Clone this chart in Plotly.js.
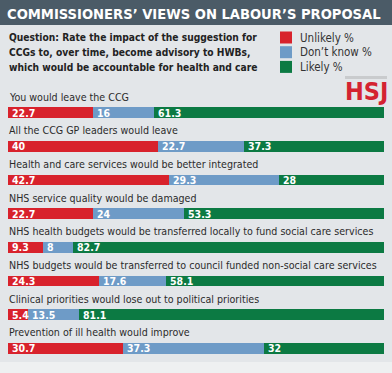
<!DOCTYPE html>
<html>
<head>
<meta charset="utf-8">
<script src="https://cdn.plot.ly/plotly-3.0.1.min.js"></script>
<style>html,body{margin:0;padding:0;background:#e3e6e9;}#chart{width:392px;height:373px;}</style>
</head>
<body>
<div id="chart"></div>
<script>
const categories = [
  "You would leave the CCG",
  "All the CCG GP leaders would leave",
  "Health and care services would be better integrated",
  "NHS service quality would be damaged",
  "NHS health budgets would be transferred locally to fund social care services",
  "NHS budgets would be transferred to council funded non-social care services",
  "Clinical priorities would lose out to political priorities",
  "Prevention of ill health would improve"
];
const unlikely = [22.7, 40, 42.7, 22.7, 9.3, 24.3, 5.4, 30.7];
const dontKnow = [16, 22.7, 29.3, 24, 8, 17.6, 13.5, 37.3];
const likely = [61.3, 37.3, 28, 53.3, 82.7, 58.1, 81.1, 32];
const seriesNames = ["Unlikely %", "Don\u2019t know %", "Likely %"];
const titleText = "COMMISSIONERS\u2019 VIEWS ON LABOUR\u2019S PROPOSAL";
const questionLines = [
  "Question: Rate the impact of the suggestion for",
  "CCGs to, over time, become advisory to HWBs,",
  "which would be accountable for health and care"
];

const FONT = "DejaVu Sans Condensed, Liberation Sans, sans-serif";
const colors = ["#d8222c", "#6e9bc7", "#0c7a43"];
const W = 392, H = 373;
const M = {l: 8, r: 8, t: 96, b: 8};
const PW = W - M.l - M.r, PH = H - M.t - M.b;
const px = x => (x - M.l) / PW;
const py = y => (H - M.b - y) / PH;

const series = [unlikely, dontKnow, likely];
const traces = series.map((vals, i) => ({
  type: "bar",
  orientation: "h",
  y: categories,
  x: vals,
  name: seriesNames[i],
  marker: {color: colors[i], line: {width: 0}},
  width: 0.32,
  hoverinfo: "skip",
  showlegend: false
}));

const annotations = [];
// category labels
categories.forEach(c => {
  annotations.push({
    x: 0, xref: "x", y: c, yref: "y", yshift: 16, xshift: -1,
    text: c, showarrow: false, xanchor: "left", yanchor: "middle",
    font: {family: FONT, size: 10.6, color: "#2b2b2b"}
  });
});
// value labels
categories.forEach((c, j) => {
  let start = 0;
  series.forEach(vals => {
    annotations.push({
      x: start, xref: "x", y: c, yref: "y", xshift: 2,
      text: String(vals[j]), showarrow: false, xanchor: "left", yanchor: "middle",
      font: {family: FONT, size: 10.5, color: "#ffffff", weight: "bold"}
    });
    start += vals[j];
  });
});
// title
annotations.push({
  x: px(5), xref: "paper", y: py(13), yref: "paper",
  text: "<b>" + titleText + "</b>", showarrow: false, xanchor: "left", yanchor: "middle",
  font: {family: FONT, size: 14.6, color: "#ffffff"}
});
// question
questionLines.forEach((t, i) => {
  annotations.push({
    x: px(7), xref: "paper", y: py(38 + i * 14.5), yref: "paper",
    text: "<b>" + t + "</b>", showarrow: false, xanchor: "left", yanchor: "middle",
    font: {family: FONT, size: 10.2, color: "#222222"}
  });
});
// legend
const shapes = [];
seriesNames.forEach((n, i) => {
  const cy = 37.5 + i * 14.7;
  shapes.push({
    type: "rect", xref: "paper", yref: "paper",
    x0: px(280), x1: px(292), y0: py(cy - 6), y1: py(cy + 6),
    fillcolor: colors[i], line: {width: 0}
  });
  annotations.push({
    x: px(298), xref: "paper", y: py(cy), yref: "paper",
    text: n, showarrow: false, xanchor: "left", yanchor: "middle",
    font: {family: FONT, size: 11.5, color: "#333333"}
  });
});
// HSJ logo
annotations.push({
  x: px(390), xref: "paper", y: py(92), yref: "paper",
  text: "<b>HSJ</b>", showarrow: false, xanchor: "right", yanchor: "middle",
  font: {family: FONT, size: 25, color: "#d42331"}
});
// title bar and background strips
shapes.unshift(
  {type: "rect", xref: "paper", yref: "paper", layer: "below",
   x0: px(0), x1: px(W), y0: py(0), y1: py(25), fillcolor: "#4b5b67", line: {width: 0}},
  {type: "rect", xref: "paper", yref: "paper", layer: "below",
   x0: px(0), x1: px(W), y0: py(362), y1: py(H), fillcolor: "#eef0f1", line: {width: 0}},
  {type: "rect", xref: "paper", yref: "paper", layer: "below",
   x0: px(345), x1: px(387), y0: py(76), y1: py(79), fillcolor: "#c9cbcd", line: {width: 0}}
);

const layout = {
  width: W, height: H,
  margin: M,
  paper_bgcolor: "#e3e6e9",
  plot_bgcolor: "rgba(0,0,0,0)",
  barmode: "stack",
  bargap: 0,
  showlegend: false,
  xaxis: {range: [0, 100], visible: false, fixedrange: true},
  yaxis: {type: "category", range: [7.5, -0.5], visible: false, fixedrange: true},
  annotations: annotations,
  shapes: shapes
};

Plotly.newPlot("chart", traces, layout, {displayModeBar: false, staticPlot: true});
</script>
</body>
</html>
